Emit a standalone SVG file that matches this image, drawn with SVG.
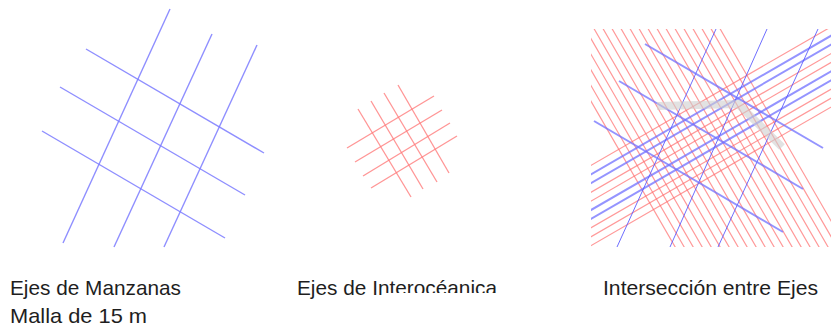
<svg xmlns="http://www.w3.org/2000/svg" width="832" height="327" viewBox="0 0 832 327">
<style>
.bl{stroke:#7a7aff;stroke-width:1.4;stroke-opacity:0.85;fill:none}
.rd{stroke:#ff7a7a;stroke-width:1.3;stroke-opacity:0.8;fill:none}
.rr{stroke:#ff6e6e;stroke-width:1.2;stroke-opacity:0.7;fill:none}
.bt{stroke:#5555ff;stroke-width:1;stroke-opacity:0.85;fill:none}
.bk{stroke:#7070ff;stroke-width:2;stroke-opacity:0.75;fill:none}
.lb{font-family:"Liberation Sans",Arial,sans-serif;font-size:21px;fill:#1e1e1e}
</style>
<defs>
<clipPath id="panel"><rect x="591" y="29" width="240" height="218"/></clipPath>
<clipPath id="cut"><rect x="280" y="255" width="105" height="60"/><rect x="385" y="255" width="130" height="38"/></clipPath>
</defs>
<rect width="832" height="327" fill="#ffffff"/>
<g id="manzanas">
<line class="bl" x1="170" y1="9" x2="63" y2="243"/>
<line class="bl" x1="212" y1="34" x2="114" y2="247"/>
<line class="bl" x1="257" y1="45" x2="164" y2="247"/>
<line class="bl" x1="86" y1="49" x2="264" y2="153"/>
<line class="bl" x1="60" y1="87" x2="245" y2="195"/>
<line class="bl" x1="42" y1="131" x2="225" y2="238"/>
</g>
<g id="interoceanica">
<line class="rd" x1="358" y1="109" x2="411" y2="197"/>
<line class="rd" x1="371" y1="101" x2="423" y2="189"/>
<line class="rd" x1="384" y1="93" x2="437" y2="182"/>
<line class="rd" x1="398" y1="85" x2="449" y2="173"/>
<line class="rd" x1="347" y1="148" x2="434" y2="96"/>
<line class="rd" x1="355" y1="162" x2="442" y2="110"/>
<line class="rd" x1="363" y1="176" x2="450" y2="123"/>
<line class="rd" x1="371" y1="188" x2="457" y2="136"/>
</g>
<g id="interseccion">
<g clip-path="url(#panel)">
<g transform="translate(700,140) rotate(-30)">
<path class="rr" d="M-75 -260V260M-67.2 -260V260M-59.4 -260V260M-51.6 -260V260M-43.8 -260V260M-36.1 -260V260M-28.3 -260V260M-20.5 -260V260M-12.7 -260V260M-4.9 -260V260M2.9 -260V260M10.7 -260V260M18.5 -260V260M26.3 -260V260M34.1 -260V260M41.8 -260V260M49.6 -260V260M57.4 -260V260M65.2 -260V260M73 -260V260"/>
<path class="rr" d="M-260 -32.5H260M-260 -9.3H260M-260 -1.6H260M-260 21.5H260M-260 29.3H260M-260 37H260"/>
<path class="bk" d="M-260 -24.8H260M-260 -17.1H260M-260 6.1H260M-260 13.8H260"/>
</g>
<line class="bt" x1="716" y1="29" x2="617" y2="247"/>
<line class="bt" x1="767" y1="29" x2="670" y2="247"/>
<line class="bt" x1="818" y1="29" x2="718" y2="247"/>
</g>
<line class="bk" x1="645" y1="44" x2="823" y2="148"/>
<line class="bk" x1="619" y1="81" x2="803" y2="189"/>
<line class="bk" x1="594" y1="121" x2="783" y2="232"/>
<polyline points="657,106 738,104 782,147" fill="none" stroke="#cfcfcf" stroke-opacity="0.6" stroke-width="8" stroke-linejoin="miter"/>
</g>
<g id="labels">
<text class="lb" x="10" y="295" textLength="171" lengthAdjust="spacingAndGlyphs">Ejes de Manzanas</text>
<text class="lb" x="10" y="323" textLength="137" lengthAdjust="spacingAndGlyphs">Malla de 15 m</text>
<text class="lb" x="297" y="295" textLength="200" lengthAdjust="spacingAndGlyphs" clip-path="url(#cut)">Ejes de Interocéanica</text>
<text class="lb" x="603" y="295" textLength="215" lengthAdjust="spacingAndGlyphs">Intersección entre Ejes</text>
</g>
</svg>
